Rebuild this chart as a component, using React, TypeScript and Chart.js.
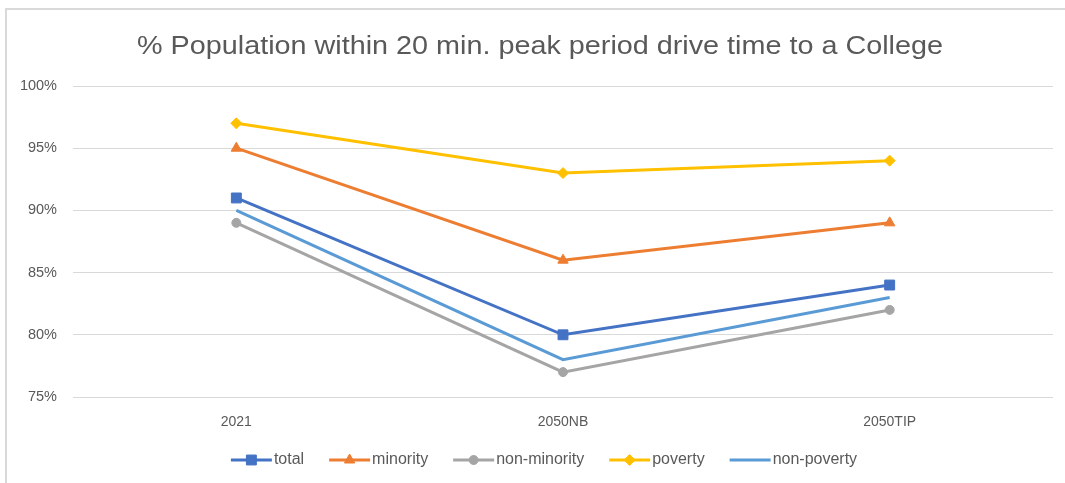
import React, { useEffect, useRef } from 'react';
import { Chart, registerables } from 'chart.js';
import { drawPoint } from 'chart.js/helpers';

Chart.register(...registerables);

const titleText = '% Population within 20 min. peak period drive time to a College';
const categories = ['2021', '2050NB', '2050TIP'];
const seriesNames = ['total', 'minority', 'non-minority', 'poverty', 'non-poverty'];
const totalValues = [91, 80, 84];
const minorityValues = [95, 86, 89];
const nonMinorityValues = [89, 77, 82];
const povertyValues = [97, 93, 94];
const nonPovertyValues = [90, 78, 83];
const yMin = 75;
const yMax = 100;
const yStep = 5;

const seriesValues = [totalValues, minorityValues, nonMinorityValues, povertyValues, nonPovertyValues];
const seriesColors = ['#4472C4', '#ED7D31', '#A5A5A5', '#FFC000', '#5B9BD5'];
const seriesMarkers: any[] = ['rect', 'triangle', 'circle', 'rectRot', false];
const markerRadius = [7, 6, 4.5, 5.5, 0];

const FONT = '"Liberation Sans", Arial, sans-serif';
const TEXT = '#595959';

const titlePlugin = {
  id: 'excelTitle',
  afterDraw(chart: any) {
    const ctx = chart.ctx;
    ctx.save();
    ctx.font = `26px ${FONT}`;
    ctx.fillStyle = TEXT;
    ctx.textAlign = 'center';
    ctx.textBaseline = 'alphabetic';
    const w = ctx.measureText(titleText).width;
    const target = 806;
    const sx = target / w;
    ctx.translate(540, 54);
    ctx.scale(sx, 1);
    ctx.fillText(titleText, 0, 0);
    ctx.restore();
  },
};

const legendPlugin = {
  id: 'excelLegend',
  afterDraw(chart: any) {
    const ctx = chart.ctx;
    ctx.save();
    ctx.font = `16px ${FONT}`;
    const lineLen = 41;
    const textGap = 2;
    const itemGap = 25;
    const widths = seriesNames.map((n) => lineLen + textGap + ctx.measureText(n).width);
    const totalW = widths.reduce((a, b) => a + b, 0) + itemGap * (seriesNames.length - 1);
    let x = 544 - totalW / 2;
    const y = 460;
    seriesNames.forEach((name, i) => {
      ctx.strokeStyle = seriesColors[i];
      ctx.lineWidth = 3;
      ctx.beginPath();
      ctx.moveTo(x, y);
      ctx.lineTo(x + lineLen, y);
      ctx.stroke();
      if (seriesMarkers[i]) {
        ctx.fillStyle = seriesColors[i];
        ctx.lineWidth = 1;
        drawPoint(ctx, { pointStyle: seriesMarkers[i], rotation: 0, borderWidth: 1, radius: markerRadius[i] } as any, x + lineLen / 2, y);
      }
      ctx.fillStyle = TEXT;
      ctx.textAlign = 'left';
      ctx.textBaseline = 'middle';
      ctx.fillText(name, x + lineLen + textGap, y);
      x += widths[i] + itemGap;
    });
    ctx.restore();
  },
};

export default function App() {
  const canvasRef = useRef<HTMLCanvasElement | null>(null);

  useEffect(() => {
    if (!canvasRef.current) return;
    const chart = new Chart(canvasRef.current, {
      type: 'line',
      data: {
        labels: categories,
        datasets: seriesNames.map((name, i) => ({
          label: name,
          data: seriesValues[i],
          borderColor: seriesColors[i],
          backgroundColor: seriesColors[i],
          borderWidth: 3,
          pointStyle: seriesMarkers[i],
          pointRadius: markerRadius[i],
          pointBorderWidth: 1,
          pointBorderColor: seriesColors[i],
          pointBackgroundColor: seriesColors[i],
          tension: 0,
          fill: false,
          order: seriesNames.length - i,
        })),
      },
      options: {
        animation: false,
        responsive: false,
        maintainAspectRatio: false,
        layout: { padding: { top: 86, right: 12, bottom: 0, left: 0 } },
        plugins: {
          legend: { display: false },
          title: { display: false },
          tooltip: { enabled: false },
        },
        scales: {
          x: {
            offset: true,
            grid: { display: false, drawTicks: false },
            border: { display: false },
            ticks: { color: TEXT, font: { family: FONT, size: 14 }, padding: 17 },
            afterFit(axis: any) {
              axis.height = 86;
            },
          },
          y: {
            min: yMin,
            max: yMax,
            grid: { color: '#D9D9D9', lineWidth: 1, drawTicks: false },
            border: { display: false },
            ticks: {
              stepSize: yStep,
              color: TEXT,
              font: { family: FONT, size: 14.5 },
              padding: 16,
              callback: (v: any) => `${v}%`,
            },
            afterFit(axis: any) {
              axis.width = 73;
            },
          },
        },
      },
      plugins: [titlePlugin, legendPlugin],
    });
    return () => chart.destroy();
  }, []);

  return (
    <div style={{ position: 'fixed', left: 0, top: 0, width: 1065, height: 483, background: '#fff' }}>
      <div style={{ position: 'absolute', left: 5, top: 8, right: 0, bottom: 0, borderLeft: '2px solid #D9D9D9', borderTop: '2px solid #D9D9D9' }} />
      <canvas ref={canvasRef} width={1065} height={483} style={{ position: 'absolute', left: 0, top: 0 }} />
    </div>
  );
}
